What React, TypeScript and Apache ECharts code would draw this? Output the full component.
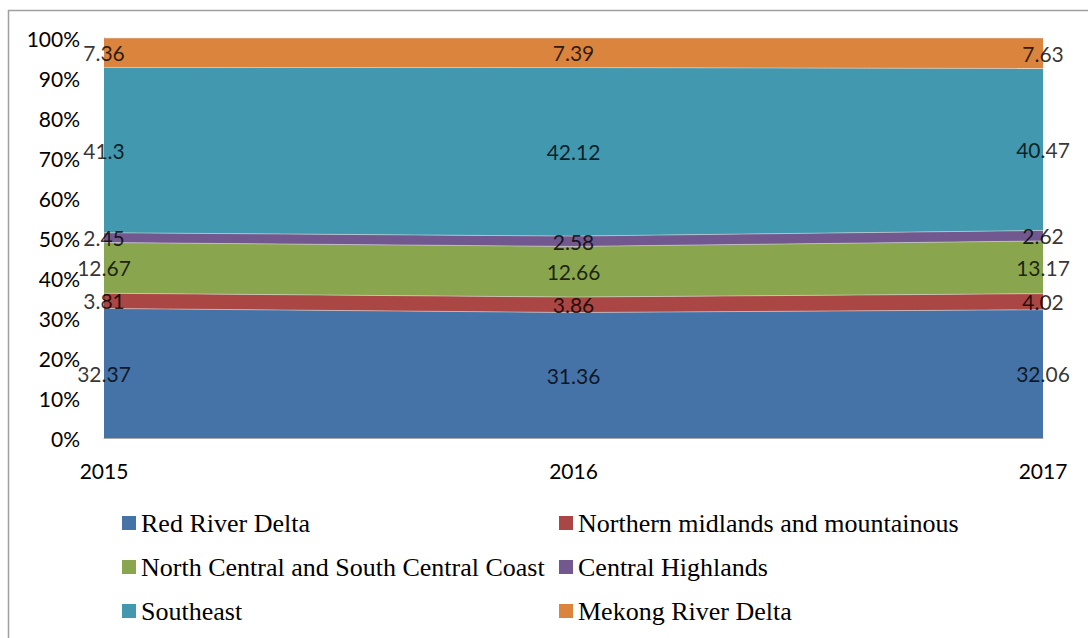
import React, { useEffect, useRef } from "react";
import * as echarts from "echarts";

const years = ["2015", "2016", "2017"];
const seriesNames = [
  "Red River Delta",
  "Northern midlands and mountainous",
  "North Central and South Central Coast",
  "Central Highlands",
  "Southeast",
  "Mekong River Delta",
];
const redRiverDelta = [32.37, 31.36, 32.06];
const northernMidlands = [3.81, 3.86, 4.02];
const northCentralCoast = [12.67, 12.66, 13.17];
const centralHighlands = [2.45, 2.58, 2.62];
const southeast = [41.3, 42.12, 40.47];
const mekongDelta = [7.36, 7.39, 7.63];
const colors = ["#4572A7", "#AA4643", "#89A54E", "#71588F", "#4198AF", "#DB843D"];
const yTicks = [0, 10, 20, 30, 40, 50, 60, 70, 80, 90, 100];

const values = [redRiverDelta, northernMidlands, northCentralCoast, centralHighlands, southeast, mekongDelta];

export default function App() {
  const ref = useRef<HTMLDivElement>(null);
  useEffect(() => {
    if (!ref.current) return;
    const chart = echarts.init(ref.current, null, { renderer: "svg" });
    const totals = years.map((_, i) => values.reduce((s, arr) => s + arr[i], 0));
    const pct = values.map((arr) => arr.map((v, i) => (v / totals[i]) * 100));
    const mids = pct.map((arr, si) =>
      arr.map((v, i) => {
        let below = 0;
        for (let k = 0; k < si; k++) below += pct[k][i];
        return below + v / 2;
      })
    );
    const font = "Lato";
    const areaSeries = seriesNames.map((name, si) => ({
      name,
      type: "line",
      stack: "total",
      data: pct[si],
      symbol: "none",
      color: colors[si],
      lineStyle: { width: 0.8, color: "rgba(220,220,220,0.7)" },
      areaStyle: { color: colors[si], opacity: 1 },
      itemStyle: { color: colors[si] },
      silent: true,
    }));
    const labelSeries = seriesNames.map((name, si) => ({
      name: name + "-label",
      type: "scatter",
      data: mids[si].map((m, i) => [years[i], m]),
      symbol: "circle",
      symbolSize: 1,
      itemStyle: { color: "rgba(0,0,0,0)" },
      silent: true,
      z: 10,
      label: {
        show: true,
        position: "inside",
        formatter: (p: any) => String(values[si][p.dataIndex]),
        color: "#000",
        fontFamily: font,
        fontSize: 21,
      },
    }));
    const legendText = { fontFamily: "Liberation Serif", fontSize: 26, color: "#000", lineHeight: 26, padding: [0, 0, 0, 0] };
    chart.setOption({
      animation: false,
      backgroundColor: "#fff",
      grid: { left: 104, right: 45, top: 38, bottom: 200 },
      xAxis: {
        type: "category",
        data: years,
        boundaryGap: false,
        axisLine: { show: true, lineStyle: { color: "#aaa", width: 1 } },
        axisTick: { show: false },
        axisLabel: { color: "#000", fontFamily: font, fontSize: 21, margin: 22 },
        splitLine: { show: false },
      },
      yAxis: {
        type: "value",
        min: yTicks[0],
        max: yTicks[yTicks.length - 1],
        interval: 10,
        axisLine: { show: true, lineStyle: { color: "#bbb", width: 1 } },
        axisTick: { show: false },
        splitLine: { show: false },
        axisLabel: { color: "#000", fontFamily: font, fontSize: 21, margin: 24, formatter: "{value}%" },
      },
      legend: [
        {
          orient: "vertical",
          left: 117,
          top: 505,
          itemWidth: 14,
          itemHeight: 14,
          itemGap: 18,
          icon: "rect",
          data: [seriesNames[0], seriesNames[2], seriesNames[4]],
          textStyle: legendText,
        },
        {
          orient: "vertical",
          left: 554,
          top: 505,
          itemWidth: 14,
          itemHeight: 14,
          itemGap: 18,
          icon: "rect",
          data: [seriesNames[1], seriesNames[3], seriesNames[5]],
          textStyle: legendText,
        },
      ],
      graphic: [
        { type: "line", shape: { x1: 8.5, y1: 10, x2: 8.5, y2: 638 }, style: { stroke: "#a0a0a0", lineWidth: 1.5 } },
        { type: "line", shape: { x1: 8, y1: 10.5, x2: 1088, y2: 10.5 }, style: { stroke: "#a0a0a0", lineWidth: 1.5 } },
      ],
      series: [...areaSeries, ...labelSeries],
    });
    return () => chart.dispose();
  }, []);
  return <div ref={ref} style={{ position: "absolute", left: 0, top: 0, width: 1088, height: 638 }} />;
}
